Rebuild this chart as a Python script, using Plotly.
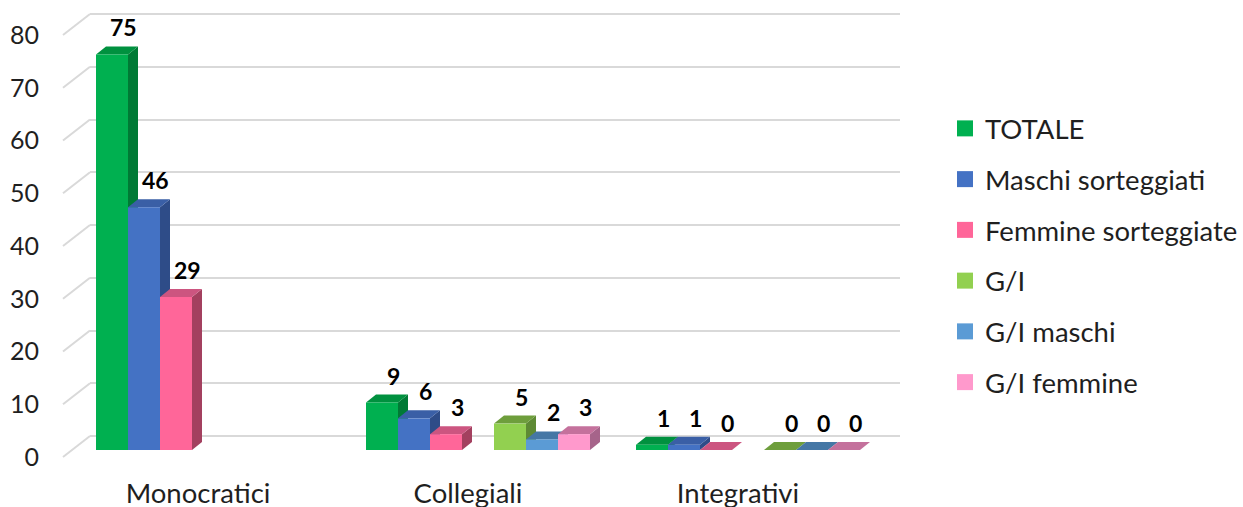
import plotly.graph_objects as go

# ---- data -------------------------------------------------------------
categories = ["Monocratici", "Collegiali", "Integrativi"]
series_names = ["TOTALE", "Maschi sorteggiati", "Femmine sorteggiate",
                "G/I", "G/I maschi", "G/I femmine"]
totale = [75, 9, 1]
maschi = [46, 6, 1]
femmine = [29, 3, 0]
gi = [None, 5, 0]
gi_maschi = [None, 2, 0]
gi_femmine = [None, 3, 0]
y_ticks = [0, 10, 20, 30, 40, 50, 60, 70, 80]

series_values = [totale, maschi, femmine, gi, gi_maschi, gi_femmine]

# ---- styling ----------------------------------------------------------
front_colors = ["#00B050", "#4472C4", "#FF6699", "#92D050", "#5B9BD5", "#FF99CC"]
top_colors = ["#00913F", "#3A5FA6", "#CC5580", "#6E9E3C", "#4577A5", "#C4719C"]
side_colors = ["#007A35", "#2E4C88", "#A3405F", "#5E8A34", "#3C6A94", "#A6648A"]
slot_of_series = [0, 1, 2, 4, 5, 6]   # slot 3 stays empty in every group

FONT = "Lato"
TEXT = "#1F1F1F"
W, H = 1243, 507

# plot-area geometry (pixels)
PX_LEFT, PX_RIGHT = 90, 900
PX_TOP, PX_BOTTOM = 10, 470
SCALE = 5.275                    # pixels per value unit
BAR_ZERO = 450                   # bar front plane, value 0
WALL_ZERO = 436                  # back wall, value 0
FRONT_ZERO = 457                 # front edge of the floor, value 0
WALL_SHIFT_X = 27                # back wall is shifted right by this much

units_per_px_x = 3 / (PX_RIGHT - PX_LEFT)
SLOT_W = 32 * units_per_px_x
FIRST_LEFT = 6 * units_per_px_x
DEPTH_X = 10 * units_per_px_x
DEPTH_Y = 8 / SCALE


def y_range(zero_px):
    return [(zero_px - PX_BOTTOM) / SCALE, (zero_px - PX_TOP) / SCALE]


fig = go.Figure()

# side and top faces of each bar (drawn under the front faces)
for s, vals in enumerate(series_values):
    for c, v in enumerate(vals):
        if v is None:
            continue
        xl = c + FIRST_LEFT + slot_of_series[s] * SLOT_W
        xr = xl + SLOT_W
        fig.add_trace(go.Scatter(
            x=[xr, xr, xr + DEPTH_X, xr + DEPTH_X, xr],
            y=[0, v, v + DEPTH_Y, DEPTH_Y, 0],
            fill="toself", fillcolor=side_colors[s], mode="lines",
            line=dict(width=0), hoverinfo="skip", showlegend=False,
            xaxis="x", yaxis="y"))
        fig.add_trace(go.Scatter(
            x=[xl, xr, xr + DEPTH_X, xl + DEPTH_X, xl],
            y=[v, v, v + DEPTH_Y, v + DEPTH_Y, v],
            fill="toself", fillcolor=top_colors[s], mode="lines",
            line=dict(width=0), hoverinfo="skip", showlegend=False,
            xaxis="x", yaxis="y"))

# front faces
for s, vals in enumerate(series_values):
    xs, ys = [], []
    for c, v in enumerate(vals):
        if v is None:
            continue
        xs.append(c + FIRST_LEFT + slot_of_series[s] * SLOT_W + SLOT_W / 2)
        ys.append(v)
    fig.add_trace(go.Bar(
        x=xs, y=ys, width=SLOT_W, marker=dict(color=front_colors[s], line=dict(width=0)),
        showlegend=False, hoverinfo="skip", xaxis="x", yaxis="y2"))

# legend entries
for s, name in enumerate(series_names):
    fig.add_trace(go.Scatter(
        x=[None], y=[None], mode="markers", name=name, legendgroup=name,
        marker=dict(symbol="square", size=16, color=front_colors[s]),
        xaxis="x", yaxis="y"))

# value labels
annotations = []
for s, vals in enumerate(series_values):
    for c, v in enumerate(vals):
        if v is None:
            continue
        xc = c + FIRST_LEFT + slot_of_series[s] * SLOT_W + SLOT_W / 2
        annotations.append(dict(
            x=xc, y=v, xref="x", yref="y", text=f"<b>{v}</b>", showarrow=False,
            xshift=11, yshift=27, yanchor="middle",
            font=dict(family=FONT, size=23, color="#000000")))

# diagonal floor/wall joins for each gridline
shapes = []
for t in y_ticks:
    y_front = FRONT_ZERO - SCALE * t
    y_back = WALL_ZERO - SCALE * t
    shapes.append(dict(
        type="line", xref="paper", yref="paper", layer="below",
        x0=(PX_LEFT - WALL_SHIFT_X) / W, y0=1 - y_front / H,
        x1=PX_LEFT / W, y1=1 - y_back / H,
        line=dict(color="#D9D9D9", width=2)))

y_dom = [1 - PX_BOTTOM / H, 1 - PX_TOP / H]

fig.update_layout(
    width=W, height=H,
    margin=dict(l=0, r=0, t=0, b=0, autoexpand=False),
    paper_bgcolor="white", plot_bgcolor="rgba(0,0,0,0)",
    font=dict(family=FONT, color=TEXT),
    barmode="overlay",
    xaxis=dict(domain=[PX_LEFT / W, PX_RIGHT / W], range=[0, 3], automargin=False,
               showgrid=False, zeroline=False, showline=False,
               tickvals=[0.4, 1.4, 2.4], ticktext=categories,
               ticks="", ticklabelstandoff=4,
               tickfont=dict(family=FONT, size=27.5, color=TEXT)),
    yaxis=dict(domain=y_dom, range=y_range(BAR_ZERO), visible=False, automargin=False),
    yaxis2=dict(domain=y_dom, range=y_range(BAR_ZERO), overlaying="y", visible=False,
                automargin=False),
    yaxis3=dict(domain=y_dom, range=y_range(WALL_ZERO), overlaying="y", automargin=False,
                showgrid=True, gridcolor="#D9D9D9", gridwidth=2,
                tickvals=y_ticks, showticklabels=False, zeroline=False,
                showline=False, ticks=""),
    yaxis4=dict(domain=y_dom, range=y_range(FRONT_ZERO), overlaying="y", automargin=False,
                showgrid=False, zeroline=False, showline=False,
                tickvals=y_ticks, ticks="", ticklabelstandoff=50,
                tickfont=dict(family=FONT, size=25, color=TEXT)),
    legend=dict(x=945 / W, y=1 - 104 / H, xanchor="left", yanchor="top",
                font=dict(family=FONT, size=27.5, color=TEXT),
                tracegroupgap=12, bgcolor="rgba(0,0,0,0)"),
    annotations=annotations,
    shapes=shapes,
)

# anchor the auxiliary y axes so their grid/labels render
fig.add_trace(go.Scatter(x=[None], y=[None], xaxis="x", yaxis="y3", showlegend=False, hoverinfo="skip"))
fig.add_trace(go.Scatter(x=[None], y=[None], xaxis="x", yaxis="y4", showlegend=False, hoverinfo="skip"))

fig.write_html("out.html")
